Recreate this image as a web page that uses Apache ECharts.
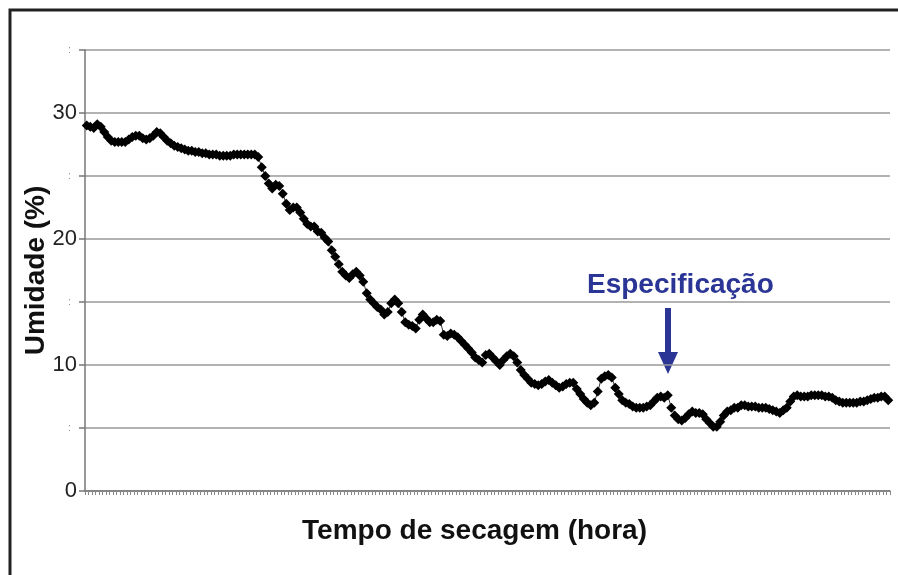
<!DOCTYPE html>
<html>
<head>
<meta charset="utf-8">
<script src="https://cdn.jsdelivr.net/npm/echarts@6/dist/echarts.min.js"></script>
<style>
  html, body { margin: 0; padding: 0; background: #fff; }
  #chart { width: 898px; height: 575px; }
</style>
</head>
<body>
<div id="chart"></div>
<script>
// umidade (%), um ponto por leitura
const umidade = [
  29.0, 28.9, 28.8, 29.1, 28.9, 28.5, 28.1, 27.8, 27.7, 27.7,
  27.7, 27.7, 27.9, 28.1, 28.2, 28.2, 28.0, 27.9, 28.0, 28.2,
  28.5, 28.4, 28.1, 27.8, 27.6, 27.4, 27.3, 27.2, 27.1, 27.0,
  27.0, 26.9, 26.9, 26.8, 26.8, 26.7, 26.7, 26.7, 26.6, 26.6,
  26.6, 26.6, 26.7, 26.7, 26.7, 26.7, 26.7, 26.7, 26.7, 26.5,
  25.7, 25.0, 24.4, 24.0, 24.3, 24.2, 23.6, 22.8, 22.3, 22.5,
  22.5, 22.1, 21.6, 21.2, 21.0, 21.0, 20.6, 20.5, 20.1, 19.8,
  19.1, 18.6, 18.0, 17.4, 17.1, 16.9, 17.2, 17.4, 17.1, 16.6,
  15.7, 15.2, 14.9, 14.6, 14.4, 14.0, 14.2, 14.9, 15.2, 14.9,
  14.2, 13.4, 13.2, 13.1, 12.9, 13.6, 14.0, 13.7, 13.4, 13.4,
  13.6, 13.5, 12.4, 12.3, 12.5, 12.4, 12.2, 11.9, 11.6, 11.3,
  11.0, 10.6, 10.4, 10.2, 10.8, 10.9, 10.6, 10.3, 10.0, 10.4,
  10.7, 10.9, 10.7, 10.2, 9.6, 9.2, 8.9, 8.6, 8.5, 8.4,
  8.5, 8.7, 8.8, 8.6, 8.4, 8.2, 8.3, 8.5, 8.6, 8.6,
  8.1, 7.7, 7.3, 7.0, 6.8, 7.0, 7.9, 8.9, 9.1, 9.2,
  9.0, 8.2, 7.7, 7.2, 7.0, 6.9, 6.7, 6.6, 6.6, 6.6,
  6.7, 6.8, 7.1, 7.4, 7.5, 7.4, 7.6, 6.6, 6.0, 5.7,
  5.6, 5.8, 6.1, 6.3, 6.2, 6.2, 6.1, 5.7, 5.4, 5.1,
  5.1, 5.5, 6.0, 6.3, 6.4, 6.6, 6.6, 6.8, 6.8, 6.7,
  6.7, 6.7, 6.6, 6.6, 6.6, 6.5, 6.4, 6.3, 6.2, 6.4,
  6.6, 7.1, 7.5, 7.6, 7.5, 7.5, 7.5, 7.6, 7.6, 7.6,
  7.6, 7.5, 7.5, 7.4, 7.2, 7.1, 7.0, 7.0, 7.0, 7.0,
  7.0, 7.1, 7.1, 7.2, 7.3, 7.4, 7.4, 7.5, 7.5, 7.2
]
const tempo = umidade.map((v, i) => String(i + 1))
const yMin = 0
const yMax = 35
const yStep = 5

const font = '"Liberation Sans", Arial, sans-serif'
const myChart = echarts.init(document.getElementById('chart'))

const option = {
  backgroundColor: '#fff',
  animation: false,
  textStyle: { fontFamily: font },
  grid: { left: 85, right: 8, top: 50, bottom: 84, containLabel: false },
  xAxis: {
    type: 'category',
    data: tempo,
    boundaryGap: true,
    name: 'Tempo de secagem (hora)',
    nameLocation: 'middle',
    nameGap: 26,
    nameMoveOverlap: false,
    nameTextStyle: {
      fontSize: 28, fontWeight: 'bold', color: '#111', fontFamily: font,
      padding: [0, 26, 0, 0],
    },
    axisLine: { lineStyle: { color: '#777', width: 1.5 } },
    axisTick: { show: true, interval: 0, length: 4, lineStyle: { color: '#888' } },
    axisLabel: { show: false },
    splitLine: { show: false },
  },
  yAxis: {
    type: 'value',
    min: yMin,
    max: yMax,
    interval: yStep,
    name: 'Umidade (%)',
    nameLocation: 'middle',
    nameGap: 35,
    nameMoveOverlap: false,
    nameTextStyle: { fontSize: 28, fontWeight: 'bold', color: '#111', fontFamily: font },
    axisLine: { show: true, lineStyle: { color: '#777', width: 1.5 } },
    axisTick: { show: true, length: 6, lineStyle: { color: '#777', width: 1.5 } },
    axisLabel: {
      margin: 8,
      formatter: (v) => (v % 10 === 0 ? '{big|' + v + '}' : '{dot|:}'),
      rich: {
        big: { fontSize: 22, color: '#222', fontFamily: font },
        dot: { fontSize: 11, color: '#999', padding: [0, 6, 0, 0] },
      },
    },
    splitLine: { show: true, lineStyle: { color: '#999', width: 1.5 } },
  },
  series: [
    {
      name: 'Umidade',
      type: 'line',
      data: umidade,
      showAllSymbol: true,
      symbol: 'diamond',
      symbolSize: 10,
      itemStyle: { color: '#000' },
      lineStyle: { color: '#333', width: 1 },
      z: 3,
    },
  ],
  graphic: [
    {
      type: 'rect',
      shape: { x: 10, y: 10, width: 900, height: 600 },
      style: { fill: 'none', stroke: '#222', lineWidth: 3 },
      silent: true,
    },
    {
      type: 'text',
      left: 587,
      top: 271,
      style: {
        text: 'Especificação',
        fontSize: 28,
        fontWeight: 'bold',
        fill: '#2b3595',
        fontFamily: font,
      },
    },
    {
      type: 'rect',
      shape: { x: 665, y: 308, width: 6, height: 46 },
      style: { fill: '#2b3595' },
    },
    {
      type: 'polygon',
      shape: { points: [[658, 352], [678, 352], [668, 374]] },
      style: { fill: '#2b3595' },
    },
  ],
}

myChart.setOption(option)
</script>
</body>
</html>
